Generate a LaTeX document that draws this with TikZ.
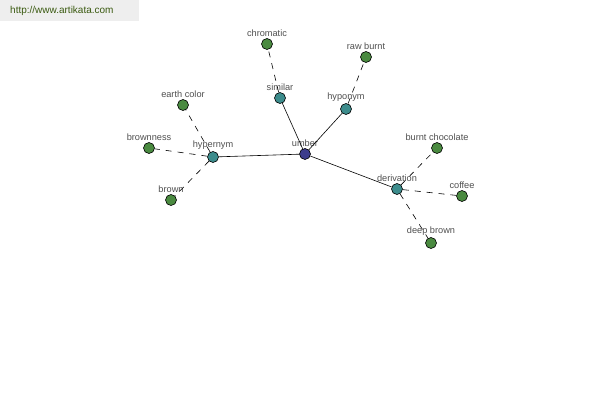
\documentclass[tikz,border=0pt]{standalone}
\usepackage{fontspec}
\setmainfont{Liberation Sans}
\definecolor{hubc}{HTML}{3C3C8C}
\definecolor{relc}{HTML}{3C8C8C}
\definecolor{leafc}{HTML}{4A8A40}
\definecolor{labc}{HTML}{505050}
\definecolor{urlc}{HTML}{3A5A10}
\definecolor{bannerc}{HTML}{EEEEEE}
\tikzset{
  dot/.style={circle, draw=black, line width=0.6pt, minimum size=11pt, inner sep=0pt},
  hubdot/.style={dot, fill=hubc},
  reldot/.style={dot, fill=relc},
  leafdot/.style={dot, fill=leafc},
  lab/.style={label={[text=labc, font=\fontsize{9.2}{10}\selectfont, inner sep=0pt, yshift=1.5pt]above:#1}},
  solidlink/.style={draw=black, line width=0.6pt},
  dashlink/.style={draw=black, line width=0.6pt, dash pattern=on 6pt off 6pt}
}
\begin{document}
\begin{tikzpicture}[x=1pt, y=-1pt]
\useasboundingbox (0,0) rectangle (600,400);
\fill[white] (0,0) rectangle (600,400);
\fill[bannerc] (0,0) rectangle (139,21);
\node[anchor=west, text=urlc, font=\fontsize{10}{12}\selectfont, inner sep=0pt] (url) at (10,11) {http://www.artikata.com};

\node[hubdot, lab=umber] (umber) at (305,154) {};
\node[reldot, lab=hypernym] (hypernym) at (213,157) {};
\node[reldot, lab=similar] (similar) at (280,98) {};
\node[reldot, lab=hyponym] (hyponym) at (346,109) {};
\node[reldot, lab=derivation] (derivation) at (397,189) {};
\node[leafdot, lab=chromatic] (chromatic) at (267,44) {};
\node[leafdot, lab=earth color] (earth) at (183,105) {};
\node[leafdot, lab=brownness] (brownness) at (149,148) {};
\node[leafdot, lab=brown] (brown) at (171,200) {};
\node[leafdot, lab=raw burnt] (raw) at (366,57) {};
\node[leafdot, lab=burnt chocolate] (burnt) at (437,148) {};
\node[leafdot, lab=coffee] (coffee) at (462,196) {};
\node[leafdot, lab=deep brown] (deep) at (431,243) {};

\draw[solidlink] (umber) -- (hypernym);
\draw[solidlink] (umber) -- (similar);
\draw[solidlink] (umber) -- (hyponym);
\draw[solidlink] (umber) -- (derivation);
\draw[dashlink] (hypernym) -- (earth);
\draw[dashlink] (hypernym) -- (brownness);
\draw[dashlink] (hypernym) -- (brown);
\draw[dashlink] (similar) -- (chromatic);
\draw[dashlink] (hyponym) -- (raw);
\draw[dashlink] (derivation) -- (burnt);
\draw[dashlink] (derivation) -- (coffee);
\draw[dashlink] (derivation) -- (deep);
\end{tikzpicture}
\end{document}
